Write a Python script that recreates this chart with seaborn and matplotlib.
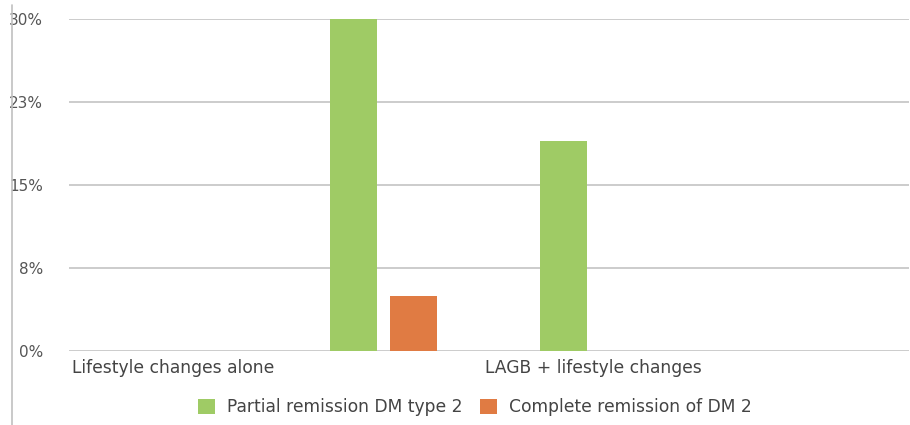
import matplotlib
matplotlib.use("Agg")
import matplotlib.pyplot as plt
from matplotlib.lines import Line2D
import seaborn as sns
import pandas as pd

categories = ["Lifestyle changes alone", " ", "LAGB + lifestyle changes", "  "]
partial_remission = [0, 30, 19, 0]
complete_remission = [0, 5, 0, 0]
series_names = ["Partial remission DM type 2", "Complete remission of DM 2"]
y_ticks = [0, 7.5, 15, 22.5, 30]
y_tick_labels = ["0%", "8%", "15%", "23%", "30%"]
colors = ["#9fcb65", "#e07b43"]

df = pd.DataFrame({
    "category": categories * 2,
    "value": partial_remission + complete_remission,
    "series": [series_names[0]] * len(categories) + [series_names[1]] * len(categories),
})

sns.set_theme(style="white")
plt.rcParams["font.family"] = ["DejaVu Sans"]

fig = plt.figure(figsize=(9.10, 4.25), dpi=100)
ax = fig.add_axes([68.5 / 910, 1 - 351 / 425, 840 / 910, 332 / 425])

sns.barplot(data=df, x="category", y="value", hue="series", order=categories,
            hue_order=series_names, palette=colors, width=0.571, gap=0.217,
            saturation=1, linewidth=0, ax=ax, legend=True)

ax.set_ylim(0, 30)
ax.set_xlim(-0.5, len(categories) - 0.5)
ax.set_yticks(y_ticks)
ax.set_yticklabels(y_tick_labels)
ax.yaxis.grid(True, color="#c8c8c8", linewidth=1.3)
ax.set_axisbelow(True)
for s in ax.spines.values():
    s.set_visible(False)
ax.set_xlabel("")
ax.set_ylabel("")
ax.tick_params(axis="y", length=0, pad=18.5, labelsize=11, labelcolor="#555555")
ax.tick_params(axis="x", length=0, pad=6, labelsize=12.3, labelcolor="#444444")

handles, labels = ax.get_legend_handles_labels()
ax.legend_.remove()
fig.legend(handles, labels, loc="center", bbox_to_anchor=(475 / 910, 1 - 407 / 425),
           ncol=2, frameon=False, fontsize=12.3, handlelength=1.0, handleheight=1.0,
           columnspacing=1.0, handletextpad=0.7, labelcolor="#444444")

fig.add_artist(Line2D([12 / 910, 12 / 910], [0.0, 1 - 5 / 425], color="#c0c0c0", linewidth=1.2))

fig.savefig("out.png", dpi=100, facecolor="white")
